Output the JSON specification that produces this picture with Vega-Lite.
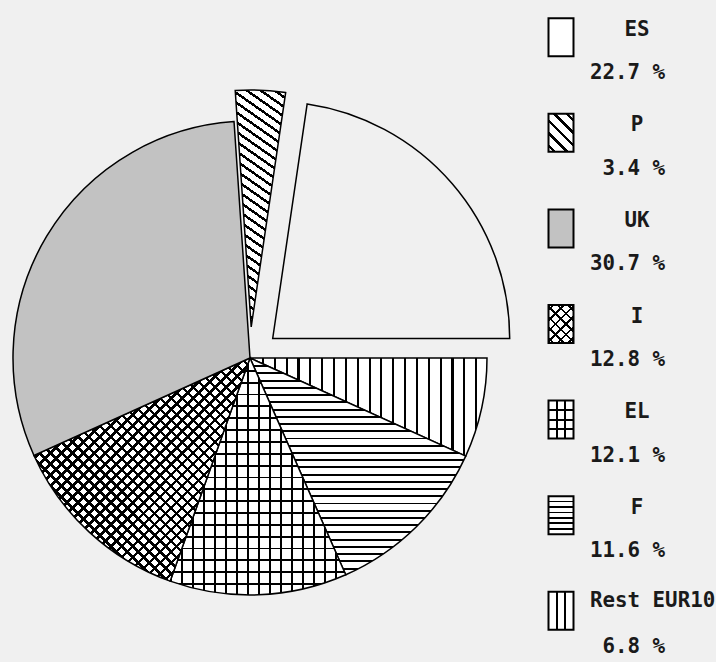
{
"$schema":"https://vega.github.io/schema/vega-lite/v6.json",
"background":"#f0f0f0",
"padding":0,
"spacing":30,
"bounds":"flush",
"config":{"view":{"stroke":null}},
"hconcat":[
{
"width":500,"height":662,
"data":{"values":[
{"country":"Rest EUR10","pct":6.8,"ord":1},
{"country":"F","pct":11.6,"ord":2},
{"country":"EL","pct":12.1,"ord":3},
{"country":"I","pct":12.8,"ord":4},
{"country":"UK","pct":30.7,"ord":5},
{"country":"P","pct":3.4,"ord":6},
{"country":"ES","pct":22.7,"ord":7}]},
"encoding":{
"theta":{"field":"pct","type":"quantitative","stack":true,"scale":{"range":[1.5707963,7.8539816]}},
"order":{"field":"ord","type":"quantitative"},
"detail":{"field":"country"}
},
"layer":[
{"mark":{"type":"arc","radius":237,"yOffset":27,"stroke":"#000","strokeWidth":1.5},
"encoding":{
"fill":{"condition":[
{"test":"datum.country==='Rest EUR10'","value":{"gradient":"linear","x1":0,"y1":0,"x2":1,"y2":0,"stops":[
{"offset":0,"color":"#000"},{"offset":0.009,"color":"#000"},{"offset":0.009,"color":"#fff"},{"offset":0.05,"color":"#fff"},
{"offset":0.05,"color":"#000"},{"offset":0.059,"color":"#000"},{"offset":0.059,"color":"#fff"},{"offset":0.1,"color":"#fff"},
{"offset":0.1,"color":"#000"},{"offset":0.109,"color":"#000"},{"offset":0.109,"color":"#fff"},{"offset":0.15,"color":"#fff"},
{"offset":0.15,"color":"#000"},{"offset":0.159,"color":"#000"},{"offset":0.159,"color":"#fff"},{"offset":0.2,"color":"#fff"},
{"offset":0.2,"color":"#000"},{"offset":0.209,"color":"#000"},{"offset":0.209,"color":"#fff"},{"offset":0.25,"color":"#fff"},
{"offset":0.25,"color":"#000"},{"offset":0.259,"color":"#000"},{"offset":0.259,"color":"#fff"},{"offset":0.3,"color":"#fff"},
{"offset":0.3,"color":"#000"},{"offset":0.309,"color":"#000"},{"offset":0.309,"color":"#fff"},{"offset":0.35,"color":"#fff"},
{"offset":0.35,"color":"#000"},{"offset":0.359,"color":"#000"},{"offset":0.359,"color":"#fff"},{"offset":0.4,"color":"#fff"},
{"offset":0.4,"color":"#000"},{"offset":0.409,"color":"#000"},{"offset":0.409,"color":"#fff"},{"offset":0.45,"color":"#fff"},
{"offset":0.45,"color":"#000"},{"offset":0.459,"color":"#000"},{"offset":0.459,"color":"#fff"},{"offset":0.5,"color":"#fff"},
{"offset":0.5,"color":"#000"},{"offset":0.509,"color":"#000"},{"offset":0.509,"color":"#fff"},{"offset":0.55,"color":"#fff"},
{"offset":0.55,"color":"#000"},{"offset":0.559,"color":"#000"},{"offset":0.559,"color":"#fff"},{"offset":0.6,"color":"#fff"},
{"offset":0.6,"color":"#000"},{"offset":0.609,"color":"#000"},{"offset":0.609,"color":"#fff"},{"offset":0.65,"color":"#fff"},
{"offset":0.65,"color":"#000"},{"offset":0.659,"color":"#000"},{"offset":0.659,"color":"#fff"},{"offset":0.7,"color":"#fff"},
{"offset":0.7,"color":"#000"},{"offset":0.709,"color":"#000"},{"offset":0.709,"color":"#fff"},{"offset":0.75,"color":"#fff"},
{"offset":0.75,"color":"#000"},{"offset":0.759,"color":"#000"},{"offset":0.759,"color":"#fff"},{"offset":0.8,"color":"#fff"},
{"offset":0.8,"color":"#000"},{"offset":0.809,"color":"#000"},{"offset":0.809,"color":"#fff"},{"offset":0.85,"color":"#fff"},
{"offset":0.85,"color":"#000"},{"offset":0.859,"color":"#000"},{"offset":0.859,"color":"#fff"},{"offset":0.9,"color":"#fff"},
{"offset":0.9,"color":"#000"},{"offset":0.909,"color":"#000"},{"offset":0.909,"color":"#fff"},{"offset":0.95,"color":"#fff"},
{"offset":0.95,"color":"#000"},{"offset":0.959,"color":"#000"},{"offset":0.959,"color":"#fff"},{"offset":1,"color":"#fff"}]}},
{"test":"datum.country==='F'","value":{"gradient":"linear","x1":0,"y1":0,"x2":0,"y2":1,"stops":[
{"offset":0,"color":"#000"},{"offset":0.009,"color":"#000"},{"offset":0.009,"color":"#fff"},{"offset":0.0333,"color":"#fff"},
{"offset":0.0333,"color":"#000"},{"offset":0.0423,"color":"#000"},{"offset":0.0423,"color":"#fff"},{"offset":0.0667,"color":"#fff"},
{"offset":0.0667,"color":"#000"},{"offset":0.0757,"color":"#000"},{"offset":0.0757,"color":"#fff"},{"offset":0.1,"color":"#fff"},
{"offset":0.1,"color":"#000"},{"offset":0.109,"color":"#000"},{"offset":0.109,"color":"#fff"},{"offset":0.1333,"color":"#fff"},
{"offset":0.1333,"color":"#000"},{"offset":0.1423,"color":"#000"},{"offset":0.1423,"color":"#fff"},{"offset":0.1667,"color":"#fff"},
{"offset":0.1667,"color":"#000"},{"offset":0.1757,"color":"#000"},{"offset":0.1757,"color":"#fff"},{"offset":0.2,"color":"#fff"},
{"offset":0.2,"color":"#000"},{"offset":0.209,"color":"#000"},{"offset":0.209,"color":"#fff"},{"offset":0.2333,"color":"#fff"},
{"offset":0.2333,"color":"#000"},{"offset":0.2423,"color":"#000"},{"offset":0.2423,"color":"#fff"},{"offset":0.2667,"color":"#fff"},
{"offset":0.2667,"color":"#000"},{"offset":0.2757,"color":"#000"},{"offset":0.2757,"color":"#fff"},{"offset":0.3,"color":"#fff"},
{"offset":0.3,"color":"#000"},{"offset":0.309,"color":"#000"},{"offset":0.309,"color":"#fff"},{"offset":0.3333,"color":"#fff"},
{"offset":0.3333,"color":"#000"},{"offset":0.3423,"color":"#000"},{"offset":0.3423,"color":"#fff"},{"offset":0.3667,"color":"#fff"},
{"offset":0.3667,"color":"#000"},{"offset":0.3757,"color":"#000"},{"offset":0.3757,"color":"#fff"},{"offset":0.4,"color":"#fff"},
{"offset":0.4,"color":"#000"},{"offset":0.409,"color":"#000"},{"offset":0.409,"color":"#fff"},{"offset":0.4333,"color":"#fff"},
{"offset":0.4333,"color":"#000"},{"offset":0.4423,"color":"#000"},{"offset":0.4423,"color":"#fff"},{"offset":0.4667,"color":"#fff"},
{"offset":0.4667,"color":"#000"},{"offset":0.4757,"color":"#000"},{"offset":0.4757,"color":"#fff"},{"offset":0.5,"color":"#fff"},
{"offset":0.5,"color":"#000"},{"offset":0.509,"color":"#000"},{"offset":0.509,"color":"#fff"},{"offset":0.5333,"color":"#fff"},
{"offset":0.5333,"color":"#000"},{"offset":0.5423,"color":"#000"},{"offset":0.5423,"color":"#fff"},{"offset":0.5667,"color":"#fff"},
{"offset":0.5667,"color":"#000"},{"offset":0.5757,"color":"#000"},{"offset":0.5757,"color":"#fff"},{"offset":0.6,"color":"#fff"},
{"offset":0.6,"color":"#000"},{"offset":0.609,"color":"#000"},{"offset":0.609,"color":"#fff"},{"offset":0.6333,"color":"#fff"},
{"offset":0.6333,"color":"#000"},{"offset":0.6423,"color":"#000"},{"offset":0.6423,"color":"#fff"},{"offset":0.6667,"color":"#fff"},
{"offset":0.6667,"color":"#000"},{"offset":0.6757,"color":"#000"},{"offset":0.6757,"color":"#fff"},{"offset":0.7,"color":"#fff"},
{"offset":0.7,"color":"#000"},{"offset":0.709,"color":"#000"},{"offset":0.709,"color":"#fff"},{"offset":0.7333,"color":"#fff"},
{"offset":0.7333,"color":"#000"},{"offset":0.7423,"color":"#000"},{"offset":0.7423,"color":"#fff"},{"offset":0.7667,"color":"#fff"},
{"offset":0.7667,"color":"#000"},{"offset":0.7757,"color":"#000"},{"offset":0.7757,"color":"#fff"},{"offset":0.8,"color":"#fff"},
{"offset":0.8,"color":"#000"},{"offset":0.809,"color":"#000"},{"offset":0.809,"color":"#fff"},{"offset":0.8333,"color":"#fff"},
{"offset":0.8333,"color":"#000"},{"offset":0.8423,"color":"#000"},{"offset":0.8423,"color":"#fff"},{"offset":0.8667,"color":"#fff"},
{"offset":0.8667,"color":"#000"},{"offset":0.8757,"color":"#000"},{"offset":0.8757,"color":"#fff"},{"offset":0.9,"color":"#fff"},
{"offset":0.9,"color":"#000"},{"offset":0.909,"color":"#000"},{"offset":0.909,"color":"#fff"},{"offset":0.9333,"color":"#fff"},
{"offset":0.9333,"color":"#000"},{"offset":0.9423,"color":"#000"},{"offset":0.9423,"color":"#fff"},{"offset":0.9667,"color":"#fff"},
{"offset":0.9667,"color":"#000"},{"offset":0.9757,"color":"#000"},{"offset":0.9757,"color":"#fff"},{"offset":1,"color":"#fff"}]}},
{"test":"datum.country==='EL'","value":{"gradient":"linear","x1":0,"y1":0,"x2":0,"y2":1,"stops":[
{"offset":0,"color":"#000"},{"offset":0.008,"color":"#000"},{"offset":0.008,"color":"#fff"},{"offset":0.05,"color":"#fff"},
{"offset":0.05,"color":"#000"},{"offset":0.058,"color":"#000"},{"offset":0.058,"color":"#fff"},{"offset":0.1,"color":"#fff"},
{"offset":0.1,"color":"#000"},{"offset":0.108,"color":"#000"},{"offset":0.108,"color":"#fff"},{"offset":0.15,"color":"#fff"},
{"offset":0.15,"color":"#000"},{"offset":0.158,"color":"#000"},{"offset":0.158,"color":"#fff"},{"offset":0.2,"color":"#fff"},
{"offset":0.2,"color":"#000"},{"offset":0.208,"color":"#000"},{"offset":0.208,"color":"#fff"},{"offset":0.25,"color":"#fff"},
{"offset":0.25,"color":"#000"},{"offset":0.258,"color":"#000"},{"offset":0.258,"color":"#fff"},{"offset":0.3,"color":"#fff"},
{"offset":0.3,"color":"#000"},{"offset":0.308,"color":"#000"},{"offset":0.308,"color":"#fff"},{"offset":0.35,"color":"#fff"},
{"offset":0.35,"color":"#000"},{"offset":0.358,"color":"#000"},{"offset":0.358,"color":"#fff"},{"offset":0.4,"color":"#fff"},
{"offset":0.4,"color":"#000"},{"offset":0.408,"color":"#000"},{"offset":0.408,"color":"#fff"},{"offset":0.45,"color":"#fff"},
{"offset":0.45,"color":"#000"},{"offset":0.458,"color":"#000"},{"offset":0.458,"color":"#fff"},{"offset":0.5,"color":"#fff"},
{"offset":0.5,"color":"#000"},{"offset":0.508,"color":"#000"},{"offset":0.508,"color":"#fff"},{"offset":0.55,"color":"#fff"},
{"offset":0.55,"color":"#000"},{"offset":0.558,"color":"#000"},{"offset":0.558,"color":"#fff"},{"offset":0.6,"color":"#fff"},
{"offset":0.6,"color":"#000"},{"offset":0.608,"color":"#000"},{"offset":0.608,"color":"#fff"},{"offset":0.65,"color":"#fff"},
{"offset":0.65,"color":"#000"},{"offset":0.658,"color":"#000"},{"offset":0.658,"color":"#fff"},{"offset":0.7,"color":"#fff"},
{"offset":0.7,"color":"#000"},{"offset":0.708,"color":"#000"},{"offset":0.708,"color":"#fff"},{"offset":0.75,"color":"#fff"},
{"offset":0.75,"color":"#000"},{"offset":0.758,"color":"#000"},{"offset":0.758,"color":"#fff"},{"offset":0.8,"color":"#fff"},
{"offset":0.8,"color":"#000"},{"offset":0.808,"color":"#000"},{"offset":0.808,"color":"#fff"},{"offset":0.85,"color":"#fff"},
{"offset":0.85,"color":"#000"},{"offset":0.858,"color":"#000"},{"offset":0.858,"color":"#fff"},{"offset":0.9,"color":"#fff"},
{"offset":0.9,"color":"#000"},{"offset":0.908,"color":"#000"},{"offset":0.908,"color":"#fff"},{"offset":0.95,"color":"#fff"},
{"offset":0.95,"color":"#000"},{"offset":0.958,"color":"#000"},{"offset":0.958,"color":"#fff"},{"offset":1,"color":"#fff"}]}},
{"test":"datum.country==='I'","value":{"gradient":"linear","x1":0,"y1":1,"x2":0.9838,"y2":-0.0157,"stops":[
{"offset":0,"color":"#000"},{"offset":0.008,"color":"#000"},{"offset":0.008,"color":"#fff"},{"offset":0.025,"color":"#fff"},
{"offset":0.025,"color":"#000"},{"offset":0.033,"color":"#000"},{"offset":0.033,"color":"#fff"},{"offset":0.05,"color":"#fff"},
{"offset":0.05,"color":"#000"},{"offset":0.058,"color":"#000"},{"offset":0.058,"color":"#fff"},{"offset":0.075,"color":"#fff"},
{"offset":0.075,"color":"#000"},{"offset":0.083,"color":"#000"},{"offset":0.083,"color":"#fff"},{"offset":0.1,"color":"#fff"},
{"offset":0.1,"color":"#000"},{"offset":0.108,"color":"#000"},{"offset":0.108,"color":"#fff"},{"offset":0.125,"color":"#fff"},
{"offset":0.125,"color":"#000"},{"offset":0.133,"color":"#000"},{"offset":0.133,"color":"#fff"},{"offset":0.15,"color":"#fff"},
{"offset":0.15,"color":"#000"},{"offset":0.158,"color":"#000"},{"offset":0.158,"color":"#fff"},{"offset":0.175,"color":"#fff"},
{"offset":0.175,"color":"#000"},{"offset":0.183,"color":"#000"},{"offset":0.183,"color":"#fff"},{"offset":0.2,"color":"#fff"},
{"offset":0.2,"color":"#000"},{"offset":0.208,"color":"#000"},{"offset":0.208,"color":"#fff"},{"offset":0.225,"color":"#fff"},
{"offset":0.225,"color":"#000"},{"offset":0.233,"color":"#000"},{"offset":0.233,"color":"#fff"},{"offset":0.25,"color":"#fff"},
{"offset":0.25,"color":"#000"},{"offset":0.258,"color":"#000"},{"offset":0.258,"color":"#fff"},{"offset":0.275,"color":"#fff"},
{"offset":0.275,"color":"#000"},{"offset":0.283,"color":"#000"},{"offset":0.283,"color":"#fff"},{"offset":0.3,"color":"#fff"},
{"offset":0.3,"color":"#000"},{"offset":0.308,"color":"#000"},{"offset":0.308,"color":"#fff"},{"offset":0.325,"color":"#fff"},
{"offset":0.325,"color":"#000"},{"offset":0.333,"color":"#000"},{"offset":0.333,"color":"#fff"},{"offset":0.35,"color":"#fff"},
{"offset":0.35,"color":"#000"},{"offset":0.358,"color":"#000"},{"offset":0.358,"color":"#fff"},{"offset":0.375,"color":"#fff"},
{"offset":0.375,"color":"#000"},{"offset":0.383,"color":"#000"},{"offset":0.383,"color":"#fff"},{"offset":0.4,"color":"#fff"},
{"offset":0.4,"color":"#000"},{"offset":0.408,"color":"#000"},{"offset":0.408,"color":"#fff"},{"offset":0.425,"color":"#fff"},
{"offset":0.425,"color":"#000"},{"offset":0.433,"color":"#000"},{"offset":0.433,"color":"#fff"},{"offset":0.45,"color":"#fff"},
{"offset":0.45,"color":"#000"},{"offset":0.458,"color":"#000"},{"offset":0.458,"color":"#fff"},{"offset":0.475,"color":"#fff"},
{"offset":0.475,"color":"#000"},{"offset":0.483,"color":"#000"},{"offset":0.483,"color":"#fff"},{"offset":0.5,"color":"#fff"},
{"offset":0.5,"color":"#000"},{"offset":0.508,"color":"#000"},{"offset":0.508,"color":"#fff"},{"offset":0.525,"color":"#fff"},
{"offset":0.525,"color":"#000"},{"offset":0.533,"color":"#000"},{"offset":0.533,"color":"#fff"},{"offset":0.55,"color":"#fff"},
{"offset":0.55,"color":"#000"},{"offset":0.558,"color":"#000"},{"offset":0.558,"color":"#fff"},{"offset":0.575,"color":"#fff"},
{"offset":0.575,"color":"#000"},{"offset":0.583,"color":"#000"},{"offset":0.583,"color":"#fff"},{"offset":0.6,"color":"#fff"},
{"offset":0.6,"color":"#000"},{"offset":0.608,"color":"#000"},{"offset":0.608,"color":"#fff"},{"offset":0.625,"color":"#fff"},
{"offset":0.625,"color":"#000"},{"offset":0.633,"color":"#000"},{"offset":0.633,"color":"#fff"},{"offset":0.65,"color":"#fff"},
{"offset":0.65,"color":"#000"},{"offset":0.658,"color":"#000"},{"offset":0.658,"color":"#fff"},{"offset":0.675,"color":"#fff"},
{"offset":0.675,"color":"#000"},{"offset":0.683,"color":"#000"},{"offset":0.683,"color":"#fff"},{"offset":0.7,"color":"#fff"},
{"offset":0.7,"color":"#000"},{"offset":0.708,"color":"#000"},{"offset":0.708,"color":"#fff"},{"offset":0.725,"color":"#fff"},
{"offset":0.725,"color":"#000"},{"offset":0.733,"color":"#000"},{"offset":0.733,"color":"#fff"},{"offset":0.75,"color":"#fff"},
{"offset":0.75,"color":"#000"},{"offset":0.758,"color":"#000"},{"offset":0.758,"color":"#fff"},{"offset":0.775,"color":"#fff"},
{"offset":0.775,"color":"#000"},{"offset":0.783,"color":"#000"},{"offset":0.783,"color":"#fff"},{"offset":0.8,"color":"#fff"},
{"offset":0.8,"color":"#000"},{"offset":0.808,"color":"#000"},{"offset":0.808,"color":"#fff"},{"offset":0.825,"color":"#fff"},
{"offset":0.825,"color":"#000"},{"offset":0.833,"color":"#000"},{"offset":0.833,"color":"#fff"},{"offset":0.85,"color":"#fff"},
{"offset":0.85,"color":"#000"},{"offset":0.858,"color":"#000"},{"offset":0.858,"color":"#fff"},{"offset":0.875,"color":"#fff"},
{"offset":0.875,"color":"#000"},{"offset":0.883,"color":"#000"},{"offset":0.883,"color":"#fff"},{"offset":0.9,"color":"#fff"},
{"offset":0.9,"color":"#000"},{"offset":0.908,"color":"#000"},{"offset":0.908,"color":"#fff"},{"offset":0.925,"color":"#fff"},
{"offset":0.925,"color":"#000"},{"offset":0.933,"color":"#000"},{"offset":0.933,"color":"#fff"},{"offset":0.95,"color":"#fff"},
{"offset":0.95,"color":"#000"},{"offset":0.958,"color":"#000"},{"offset":0.958,"color":"#fff"},{"offset":0.975,"color":"#fff"},
{"offset":0.975,"color":"#000"},{"offset":0.983,"color":"#000"},{"offset":0.983,"color":"#fff"},{"offset":1,"color":"#fff"}]}},
{"test":"datum.country==='UK'","value":"#c2c2c2"}
],"value":"#fff"},
"opacity":{"condition":{"test":"datum.country==='ES'||datum.country==='P'","value":0},"value":1}
}},
{"mark":{"type":"arc","radius":237,"yOffset":27,"strokeWidth":0},
"encoding":{
"fill":{"condition":[
{"test":"datum.country==='EL'","value":{"gradient":"linear","x1":0,"y1":0,"x2":1,"y2":0,"stops":[
{"offset":0,"color":"#000"},{"offset":0.01,"color":"#000"},{"offset":0.01,"color":"rgba(0,0,0,0)"},{"offset":0.0625,"color":"rgba(0,0,0,0)"},
{"offset":0.0625,"color":"#000"},{"offset":0.0725,"color":"#000"},{"offset":0.0725,"color":"rgba(0,0,0,0)"},{"offset":0.125,"color":"rgba(0,0,0,0)"},
{"offset":0.125,"color":"#000"},{"offset":0.135,"color":"#000"},{"offset":0.135,"color":"rgba(0,0,0,0)"},{"offset":0.1875,"color":"rgba(0,0,0,0)"},
{"offset":0.1875,"color":"#000"},{"offset":0.1975,"color":"#000"},{"offset":0.1975,"color":"rgba(0,0,0,0)"},{"offset":0.25,"color":"rgba(0,0,0,0)"},
{"offset":0.25,"color":"#000"},{"offset":0.26,"color":"#000"},{"offset":0.26,"color":"rgba(0,0,0,0)"},{"offset":0.3125,"color":"rgba(0,0,0,0)"},
{"offset":0.3125,"color":"#000"},{"offset":0.3225,"color":"#000"},{"offset":0.3225,"color":"rgba(0,0,0,0)"},{"offset":0.375,"color":"rgba(0,0,0,0)"},
{"offset":0.375,"color":"#000"},{"offset":0.385,"color":"#000"},{"offset":0.385,"color":"rgba(0,0,0,0)"},{"offset":0.4375,"color":"rgba(0,0,0,0)"},
{"offset":0.4375,"color":"#000"},{"offset":0.4475,"color":"#000"},{"offset":0.4475,"color":"rgba(0,0,0,0)"},{"offset":0.5,"color":"rgba(0,0,0,0)"},
{"offset":0.5,"color":"#000"},{"offset":0.51,"color":"#000"},{"offset":0.51,"color":"rgba(0,0,0,0)"},{"offset":0.5625,"color":"rgba(0,0,0,0)"},
{"offset":0.5625,"color":"#000"},{"offset":0.5725,"color":"#000"},{"offset":0.5725,"color":"rgba(0,0,0,0)"},{"offset":0.625,"color":"rgba(0,0,0,0)"},
{"offset":0.625,"color":"#000"},{"offset":0.635,"color":"#000"},{"offset":0.635,"color":"rgba(0,0,0,0)"},{"offset":0.6875,"color":"rgba(0,0,0,0)"},
{"offset":0.6875,"color":"#000"},{"offset":0.6975,"color":"#000"},{"offset":0.6975,"color":"rgba(0,0,0,0)"},{"offset":0.75,"color":"rgba(0,0,0,0)"},
{"offset":0.75,"color":"#000"},{"offset":0.76,"color":"#000"},{"offset":0.76,"color":"rgba(0,0,0,0)"},{"offset":0.8125,"color":"rgba(0,0,0,0)"},
{"offset":0.8125,"color":"#000"},{"offset":0.8225,"color":"#000"},{"offset":0.8225,"color":"rgba(0,0,0,0)"},{"offset":0.875,"color":"rgba(0,0,0,0)"},
{"offset":0.875,"color":"#000"},{"offset":0.885,"color":"#000"},{"offset":0.885,"color":"rgba(0,0,0,0)"},{"offset":0.9375,"color":"rgba(0,0,0,0)"},
{"offset":0.9375,"color":"#000"},{"offset":0.9475,"color":"#000"},{"offset":0.9475,"color":"rgba(0,0,0,0)"},{"offset":1,"color":"rgba(0,0,0,0)"}]}},
{"test":"datum.country==='I'","value":{"gradient":"linear","x1":0,"y1":0,"x2":0.9838,"y2":1.0157,"stops":[
{"offset":0,"color":"#000"},{"offset":0.008,"color":"#000"},{"offset":0.008,"color":"rgba(0,0,0,0)"},{"offset":0.025,"color":"rgba(0,0,0,0)"},
{"offset":0.025,"color":"#000"},{"offset":0.033,"color":"#000"},{"offset":0.033,"color":"rgba(0,0,0,0)"},{"offset":0.05,"color":"rgba(0,0,0,0)"},
{"offset":0.05,"color":"#000"},{"offset":0.058,"color":"#000"},{"offset":0.058,"color":"rgba(0,0,0,0)"},{"offset":0.075,"color":"rgba(0,0,0,0)"},
{"offset":0.075,"color":"#000"},{"offset":0.083,"color":"#000"},{"offset":0.083,"color":"rgba(0,0,0,0)"},{"offset":0.1,"color":"rgba(0,0,0,0)"},
{"offset":0.1,"color":"#000"},{"offset":0.108,"color":"#000"},{"offset":0.108,"color":"rgba(0,0,0,0)"},{"offset":0.125,"color":"rgba(0,0,0,0)"},
{"offset":0.125,"color":"#000"},{"offset":0.133,"color":"#000"},{"offset":0.133,"color":"rgba(0,0,0,0)"},{"offset":0.15,"color":"rgba(0,0,0,0)"},
{"offset":0.15,"color":"#000"},{"offset":0.158,"color":"#000"},{"offset":0.158,"color":"rgba(0,0,0,0)"},{"offset":0.175,"color":"rgba(0,0,0,0)"},
{"offset":0.175,"color":"#000"},{"offset":0.183,"color":"#000"},{"offset":0.183,"color":"rgba(0,0,0,0)"},{"offset":0.2,"color":"rgba(0,0,0,0)"},
{"offset":0.2,"color":"#000"},{"offset":0.208,"color":"#000"},{"offset":0.208,"color":"rgba(0,0,0,0)"},{"offset":0.225,"color":"rgba(0,0,0,0)"},
{"offset":0.225,"color":"#000"},{"offset":0.233,"color":"#000"},{"offset":0.233,"color":"rgba(0,0,0,0)"},{"offset":0.25,"color":"rgba(0,0,0,0)"},
{"offset":0.25,"color":"#000"},{"offset":0.258,"color":"#000"},{"offset":0.258,"color":"rgba(0,0,0,0)"},{"offset":0.275,"color":"rgba(0,0,0,0)"},
{"offset":0.275,"color":"#000"},{"offset":0.283,"color":"#000"},{"offset":0.283,"color":"rgba(0,0,0,0)"},{"offset":0.3,"color":"rgba(0,0,0,0)"},
{"offset":0.3,"color":"#000"},{"offset":0.308,"color":"#000"},{"offset":0.308,"color":"rgba(0,0,0,0)"},{"offset":0.325,"color":"rgba(0,0,0,0)"},
{"offset":0.325,"color":"#000"},{"offset":0.333,"color":"#000"},{"offset":0.333,"color":"rgba(0,0,0,0)"},{"offset":0.35,"color":"rgba(0,0,0,0)"},
{"offset":0.35,"color":"#000"},{"offset":0.358,"color":"#000"},{"offset":0.358,"color":"rgba(0,0,0,0)"},{"offset":0.375,"color":"rgba(0,0,0,0)"},
{"offset":0.375,"color":"#000"},{"offset":0.383,"color":"#000"},{"offset":0.383,"color":"rgba(0,0,0,0)"},{"offset":0.4,"color":"rgba(0,0,0,0)"},
{"offset":0.4,"color":"#000"},{"offset":0.408,"color":"#000"},{"offset":0.408,"color":"rgba(0,0,0,0)"},{"offset":0.425,"color":"rgba(0,0,0,0)"},
{"offset":0.425,"color":"#000"},{"offset":0.433,"color":"#000"},{"offset":0.433,"color":"rgba(0,0,0,0)"},{"offset":0.45,"color":"rgba(0,0,0,0)"},
{"offset":0.45,"color":"#000"},{"offset":0.458,"color":"#000"},{"offset":0.458,"color":"rgba(0,0,0,0)"},{"offset":0.475,"color":"rgba(0,0,0,0)"},
{"offset":0.475,"color":"#000"},{"offset":0.483,"color":"#000"},{"offset":0.483,"color":"rgba(0,0,0,0)"},{"offset":0.5,"color":"rgba(0,0,0,0)"},
{"offset":0.5,"color":"#000"},{"offset":0.508,"color":"#000"},{"offset":0.508,"color":"rgba(0,0,0,0)"},{"offset":0.525,"color":"rgba(0,0,0,0)"},
{"offset":0.525,"color":"#000"},{"offset":0.533,"color":"#000"},{"offset":0.533,"color":"rgba(0,0,0,0)"},{"offset":0.55,"color":"rgba(0,0,0,0)"},
{"offset":0.55,"color":"#000"},{"offset":0.558,"color":"#000"},{"offset":0.558,"color":"rgba(0,0,0,0)"},{"offset":0.575,"color":"rgba(0,0,0,0)"},
{"offset":0.575,"color":"#000"},{"offset":0.583,"color":"#000"},{"offset":0.583,"color":"rgba(0,0,0,0)"},{"offset":0.6,"color":"rgba(0,0,0,0)"},
{"offset":0.6,"color":"#000"},{"offset":0.608,"color":"#000"},{"offset":0.608,"color":"rgba(0,0,0,0)"},{"offset":0.625,"color":"rgba(0,0,0,0)"},
{"offset":0.625,"color":"#000"},{"offset":0.633,"color":"#000"},{"offset":0.633,"color":"rgba(0,0,0,0)"},{"offset":0.65,"color":"rgba(0,0,0,0)"},
{"offset":0.65,"color":"#000"},{"offset":0.658,"color":"#000"},{"offset":0.658,"color":"rgba(0,0,0,0)"},{"offset":0.675,"color":"rgba(0,0,0,0)"},
{"offset":0.675,"color":"#000"},{"offset":0.683,"color":"#000"},{"offset":0.683,"color":"rgba(0,0,0,0)"},{"offset":0.7,"color":"rgba(0,0,0,0)"},
{"offset":0.7,"color":"#000"},{"offset":0.708,"color":"#000"},{"offset":0.708,"color":"rgba(0,0,0,0)"},{"offset":0.725,"color":"rgba(0,0,0,0)"},
{"offset":0.725,"color":"#000"},{"offset":0.733,"color":"#000"},{"offset":0.733,"color":"rgba(0,0,0,0)"},{"offset":0.75,"color":"rgba(0,0,0,0)"},
{"offset":0.75,"color":"#000"},{"offset":0.758,"color":"#000"},{"offset":0.758,"color":"rgba(0,0,0,0)"},{"offset":0.775,"color":"rgba(0,0,0,0)"},
{"offset":0.775,"color":"#000"},{"offset":0.783,"color":"#000"},{"offset":0.783,"color":"rgba(0,0,0,0)"},{"offset":0.8,"color":"rgba(0,0,0,0)"},
{"offset":0.8,"color":"#000"},{"offset":0.808,"color":"#000"},{"offset":0.808,"color":"rgba(0,0,0,0)"},{"offset":0.825,"color":"rgba(0,0,0,0)"},
{"offset":0.825,"color":"#000"},{"offset":0.833,"color":"#000"},{"offset":0.833,"color":"rgba(0,0,0,0)"},{"offset":0.85,"color":"rgba(0,0,0,0)"},
{"offset":0.85,"color":"#000"},{"offset":0.858,"color":"#000"},{"offset":0.858,"color":"rgba(0,0,0,0)"},{"offset":0.875,"color":"rgba(0,0,0,0)"},
{"offset":0.875,"color":"#000"},{"offset":0.883,"color":"#000"},{"offset":0.883,"color":"rgba(0,0,0,0)"},{"offset":0.9,"color":"rgba(0,0,0,0)"},
{"offset":0.9,"color":"#000"},{"offset":0.908,"color":"#000"},{"offset":0.908,"color":"rgba(0,0,0,0)"},{"offset":0.925,"color":"rgba(0,0,0,0)"},
{"offset":0.925,"color":"#000"},{"offset":0.933,"color":"#000"},{"offset":0.933,"color":"rgba(0,0,0,0)"},{"offset":0.95,"color":"rgba(0,0,0,0)"},
{"offset":0.95,"color":"#000"},{"offset":0.958,"color":"#000"},{"offset":0.958,"color":"rgba(0,0,0,0)"},{"offset":0.975,"color":"rgba(0,0,0,0)"},
{"offset":0.975,"color":"#000"},{"offset":0.983,"color":"#000"},{"offset":0.983,"color":"rgba(0,0,0,0)"},{"offset":1,"color":"rgba(0,0,0,0)"}]}}
],"value":"transparent"},
"opacity":{"condition":{"test":"datum.country==='EL'||datum.country==='I'","value":1},"value":0}
}},
{"mark":{"type":"arc","radius":237,"xOffset":22.7,"yOffset":7.4,"stroke":"#000","strokeWidth":1.5,"fill":"transparent"},
"encoding":{"opacity":{"condition":{"test":"datum.country==='ES'","value":1},"value":0}}},
{"mark":{"type":"arc","radius":237,"xOffset":1.2,"yOffset":-4,"stroke":"#000","strokeWidth":1.5},
"encoding":{
"fill":{"value":{"gradient":"linear","x1":0,"y1":1,"x2":0.1675,"y2":-0.124,"stops":[
{"offset":0,"color":"#000"},{"offset":0.011,"color":"#000"},{"offset":0.011,"color":"#fff"},{"offset":0.0357,"color":"#fff"},
{"offset":0.0357,"color":"#000"},{"offset":0.0467,"color":"#000"},{"offset":0.0467,"color":"#fff"},{"offset":0.0714,"color":"#fff"},
{"offset":0.0714,"color":"#000"},{"offset":0.0824,"color":"#000"},{"offset":0.0824,"color":"#fff"},{"offset":0.1071,"color":"#fff"},
{"offset":0.1071,"color":"#000"},{"offset":0.1181,"color":"#000"},{"offset":0.1181,"color":"#fff"},{"offset":0.1429,"color":"#fff"},
{"offset":0.1429,"color":"#000"},{"offset":0.1539,"color":"#000"},{"offset":0.1539,"color":"#fff"},{"offset":0.1786,"color":"#fff"},
{"offset":0.1786,"color":"#000"},{"offset":0.1896,"color":"#000"},{"offset":0.1896,"color":"#fff"},{"offset":0.2143,"color":"#fff"},
{"offset":0.2143,"color":"#000"},{"offset":0.2253,"color":"#000"},{"offset":0.2253,"color":"#fff"},{"offset":0.25,"color":"#fff"},
{"offset":0.25,"color":"#000"},{"offset":0.261,"color":"#000"},{"offset":0.261,"color":"#fff"},{"offset":0.2857,"color":"#fff"},
{"offset":0.2857,"color":"#000"},{"offset":0.2967,"color":"#000"},{"offset":0.2967,"color":"#fff"},{"offset":0.3214,"color":"#fff"},
{"offset":0.3214,"color":"#000"},{"offset":0.3324,"color":"#000"},{"offset":0.3324,"color":"#fff"},{"offset":0.3571,"color":"#fff"},
{"offset":0.3571,"color":"#000"},{"offset":0.3681,"color":"#000"},{"offset":0.3681,"color":"#fff"},{"offset":0.3929,"color":"#fff"},
{"offset":0.3929,"color":"#000"},{"offset":0.4039,"color":"#000"},{"offset":0.4039,"color":"#fff"},{"offset":0.4286,"color":"#fff"},
{"offset":0.4286,"color":"#000"},{"offset":0.4396,"color":"#000"},{"offset":0.4396,"color":"#fff"},{"offset":0.4643,"color":"#fff"},
{"offset":0.4643,"color":"#000"},{"offset":0.4753,"color":"#000"},{"offset":0.4753,"color":"#fff"},{"offset":0.5,"color":"#fff"},
{"offset":0.5,"color":"#000"},{"offset":0.511,"color":"#000"},{"offset":0.511,"color":"#fff"},{"offset":0.5357,"color":"#fff"},
{"offset":0.5357,"color":"#000"},{"offset":0.5467,"color":"#000"},{"offset":0.5467,"color":"#fff"},{"offset":0.5714,"color":"#fff"},
{"offset":0.5714,"color":"#000"},{"offset":0.5824,"color":"#000"},{"offset":0.5824,"color":"#fff"},{"offset":0.6071,"color":"#fff"},
{"offset":0.6071,"color":"#000"},{"offset":0.6181,"color":"#000"},{"offset":0.6181,"color":"#fff"},{"offset":0.6429,"color":"#fff"},
{"offset":0.6429,"color":"#000"},{"offset":0.6539,"color":"#000"},{"offset":0.6539,"color":"#fff"},{"offset":0.6786,"color":"#fff"},
{"offset":0.6786,"color":"#000"},{"offset":0.6896,"color":"#000"},{"offset":0.6896,"color":"#fff"},{"offset":0.7143,"color":"#fff"},
{"offset":0.7143,"color":"#000"},{"offset":0.7253,"color":"#000"},{"offset":0.7253,"color":"#fff"},{"offset":0.75,"color":"#fff"},
{"offset":0.75,"color":"#000"},{"offset":0.761,"color":"#000"},{"offset":0.761,"color":"#fff"},{"offset":0.7857,"color":"#fff"},
{"offset":0.7857,"color":"#000"},{"offset":0.7967,"color":"#000"},{"offset":0.7967,"color":"#fff"},{"offset":0.8214,"color":"#fff"},
{"offset":0.8214,"color":"#000"},{"offset":0.8324,"color":"#000"},{"offset":0.8324,"color":"#fff"},{"offset":0.8571,"color":"#fff"},
{"offset":0.8571,"color":"#000"},{"offset":0.8681,"color":"#000"},{"offset":0.8681,"color":"#fff"},{"offset":0.8929,"color":"#fff"},
{"offset":0.8929,"color":"#000"},{"offset":0.9039,"color":"#000"},{"offset":0.9039,"color":"#fff"},{"offset":0.9286,"color":"#fff"},
{"offset":0.9286,"color":"#000"},{"offset":0.9396,"color":"#000"},{"offset":0.9396,"color":"#fff"},{"offset":0.9643,"color":"#fff"},
{"offset":0.9643,"color":"#000"},{"offset":0.9753,"color":"#000"},{"offset":0.9753,"color":"#fff"},{"offset":1,"color":"#fff"}]}},
"opacity":{"condition":{"test":"datum.country==='P'","value":1},"value":0}
}}
]
},
{
"width":186,"height":648,
"data":{"values":[
{"country":"Rest EUR10","pct":6.8,"ord":1},
{"country":"F","pct":11.6,"ord":2},
{"country":"EL","pct":12.1,"ord":3},
{"country":"I","pct":12.8,"ord":4},
{"country":"UK","pct":30.7,"ord":5},
{"country":"P","pct":3.4,"ord":6},
{"country":"ES","pct":22.7,"ord":7}]},
"encoding":{"y":{"field":"country","type":"nominal","sort":["ES","P","UK","I","EL","F","Rest EUR10"],"scale":{"type":"point","padding":0.39},"axis":null}},
"layer":[
{"mark":{"type":"point","shape":"M-0.658,-1H0.658V1H-0.658Z","size":1444,"filled":true,"opacity":1,"stroke":"#000","strokeWidth":2},
"encoding":{"x":{"value":31},
"fill":{"condition":[
{"test":"datum.country==='P'","value":{"gradient":"linear","x1":0,"y1":1,"x2":0.761,"y2":-0.157,"stops":[
{"offset":0,"color":"#fff"},{"offset":0.07,"color":"#fff"},{"offset":0.07,"color":"#000"},{"offset":0.126,"color":"#000"},{"offset":0.126,"color":"#fff"},
{"offset":0.27,"color":"#fff"},{"offset":0.27,"color":"#000"},{"offset":0.326,"color":"#000"},{"offset":0.326,"color":"#fff"},
{"offset":0.47,"color":"#fff"},{"offset":0.47,"color":"#000"},{"offset":0.526,"color":"#000"},{"offset":0.526,"color":"#fff"},
{"offset":0.67,"color":"#fff"},{"offset":0.67,"color":"#000"},{"offset":0.726,"color":"#000"},{"offset":0.726,"color":"#fff"},
{"offset":0.87,"color":"#fff"},{"offset":0.87,"color":"#000"},{"offset":0.926,"color":"#000"},{"offset":0.926,"color":"#fff"},{"offset":1,"color":"#fff"}]}},
{"test":"datum.country==='UK'","value":"#c2c2c2"},
{"test":"datum.country==='I'","value":{"gradient":"linear","x1":0,"y1":1,"x2":0.761,"y2":-0.157,"stops":[
{"offset":0,"color":"#fff"},{"offset":0.06,"color":"#fff"},{"offset":0.06,"color":"#000"},{"offset":0.1,"color":"#000"},{"offset":0.1,"color":"#fff"},
{"offset":0.2267,"color":"#fff"},{"offset":0.2267,"color":"#000"},{"offset":0.2667,"color":"#000"},{"offset":0.2667,"color":"#fff"},
{"offset":0.3933,"color":"#fff"},{"offset":0.3933,"color":"#000"},{"offset":0.4333,"color":"#000"},{"offset":0.4333,"color":"#fff"},
{"offset":0.56,"color":"#fff"},{"offset":0.56,"color":"#000"},{"offset":0.6,"color":"#000"},{"offset":0.6,"color":"#fff"},
{"offset":0.7267,"color":"#fff"},{"offset":0.7267,"color":"#000"},{"offset":0.7667,"color":"#000"},{"offset":0.7667,"color":"#fff"},
{"offset":0.8933,"color":"#fff"},{"offset":0.8933,"color":"#000"},{"offset":0.9333,"color":"#000"},{"offset":0.9333,"color":"#fff"},{"offset":1,"color":"#fff"}]}},
{"test":"datum.country==='EL'","value":{"gradient":"linear","x1":0,"y1":0,"x2":0,"y2":1,"stops":[
{"offset":0,"color":"#fff"},{"offset":0.2235,"color":"#fff"},{"offset":0.2235,"color":"#000"},{"offset":0.2765,"color":"#000"},{"offset":0.2765,"color":"#fff"},
{"offset":0.4735,"color":"#fff"},{"offset":0.4735,"color":"#000"},{"offset":0.5265,"color":"#000"},{"offset":0.5265,"color":"#fff"},
{"offset":0.7235,"color":"#fff"},{"offset":0.7235,"color":"#000"},{"offset":0.7765,"color":"#000"},{"offset":0.7765,"color":"#fff"},{"offset":1,"color":"#fff"}]}},
{"test":"datum.country==='F'","value":{"gradient":"linear","x1":0,"y1":0,"x2":0,"y2":1,"stops":[
{"offset":0,"color":"#fff"},{"offset":0.1194,"color":"#fff"},{"offset":0.1194,"color":"#000"},{"offset":0.1664,"color":"#000"},{"offset":0.1664,"color":"#fff"},
{"offset":0.2622,"color":"#fff"},{"offset":0.2622,"color":"#000"},{"offset":0.3092,"color":"#000"},{"offset":0.3092,"color":"#fff"},
{"offset":0.4051,"color":"#fff"},{"offset":0.4051,"color":"#000"},{"offset":0.4521,"color":"#000"},{"offset":0.4521,"color":"#fff"},
{"offset":0.5479,"color":"#fff"},{"offset":0.5479,"color":"#000"},{"offset":0.5949,"color":"#000"},{"offset":0.5949,"color":"#fff"},
{"offset":0.6908,"color":"#fff"},{"offset":0.6908,"color":"#000"},{"offset":0.7378,"color":"#000"},{"offset":0.7378,"color":"#fff"},
{"offset":0.8336,"color":"#fff"},{"offset":0.8336,"color":"#000"},{"offset":0.8806,"color":"#000"},{"offset":0.8806,"color":"#fff"},{"offset":1,"color":"#fff"}]}},
{"test":"datum.country==='Rest EUR10'","value":{"gradient":"linear","x1":0,"y1":0,"x2":1,"y2":0,"stops":[
{"offset":0,"color":"#fff"},{"offset":0.2933,"color":"#fff"},{"offset":0.2933,"color":"#000"},{"offset":0.3733,"color":"#000"},{"offset":0.3733,"color":"#fff"},
{"offset":0.6267,"color":"#fff"},{"offset":0.6267,"color":"#000"},{"offset":0.7067,"color":"#000"},{"offset":0.7067,"color":"#fff"},{"offset":1,"color":"#fff"}]}}
],"value":"#fff"}
}},
{"mark":{"type":"point","shape":"M-0.658,-1H0.658V1H-0.658Z","size":1444,"filled":true,"opacity":1,"strokeWidth":0},
"encoding":{"x":{"value":31},
"fill":{"condition":[
{"test":"datum.country==='I'","value":{"gradient":"linear","x1":0,"y1":0,"x2":0.761,"y2":1.157,"stops":[
{"offset":0,"color":"rgba(0,0,0,0)"},{"offset":0.06,"color":"rgba(0,0,0,0)"},{"offset":0.06,"color":"#000"},{"offset":0.1,"color":"#000"},{"offset":0.1,"color":"rgba(0,0,0,0)"},
{"offset":0.2267,"color":"rgba(0,0,0,0)"},{"offset":0.2267,"color":"#000"},{"offset":0.2667,"color":"#000"},{"offset":0.2667,"color":"rgba(0,0,0,0)"},
{"offset":0.3933,"color":"rgba(0,0,0,0)"},{"offset":0.3933,"color":"#000"},{"offset":0.4333,"color":"#000"},{"offset":0.4333,"color":"rgba(0,0,0,0)"},
{"offset":0.56,"color":"rgba(0,0,0,0)"},{"offset":0.56,"color":"#000"},{"offset":0.6,"color":"#000"},{"offset":0.6,"color":"rgba(0,0,0,0)"},
{"offset":0.7267,"color":"rgba(0,0,0,0)"},{"offset":0.7267,"color":"#000"},{"offset":0.7667,"color":"#000"},{"offset":0.7667,"color":"rgba(0,0,0,0)"},
{"offset":0.8933,"color":"rgba(0,0,0,0)"},{"offset":0.8933,"color":"#000"},{"offset":0.9333,"color":"#000"},{"offset":0.9333,"color":"rgba(0,0,0,0)"},{"offset":1,"color":"rgba(0,0,0,0)"}]}},
{"test":"datum.country==='EL'","value":{"gradient":"linear","x1":0,"y1":0,"x2":1,"y2":0,"stops":[
{"offset":0,"color":"rgba(0,0,0,0)"},{"offset":0.2933,"color":"rgba(0,0,0,0)"},{"offset":0.2933,"color":"#000"},{"offset":0.3733,"color":"#000"},{"offset":0.3733,"color":"rgba(0,0,0,0)"},
{"offset":0.6267,"color":"rgba(0,0,0,0)"},{"offset":0.6267,"color":"#000"},{"offset":0.7067,"color":"#000"},{"offset":0.7067,"color":"rgba(0,0,0,0)"},{"offset":1,"color":"rgba(0,0,0,0)"}]}}
],"value":"transparent"}
}},
{"transform":[{"filter":"datum.country!=='Rest EUR10'"}],
"mark":{"type":"text","align":"center","baseline":"middle","dy":-7.5,"font":"DejaVu Sans Mono","fontSize":20.8,"fontWeight":"bold","color":"#1a1a1a"},
"encoding":{"x":{"value":107},"text":{"field":"country","type":"nominal"}}},
{"transform":[{"filter":"datum.country==='Rest EUR10'"}],
"mark":{"type":"text","align":"left","baseline":"middle","dy":-10,"font":"DejaVu Sans Mono","fontSize":20.8,"fontWeight":"bold","color":"#1a1a1a"},
"encoding":{"x":{"value":60},"text":{"field":"country","type":"nominal"}}},
{"mark":{"type":"text","align":"right","baseline":"middle","dy":36,"font":"DejaVu Sans Mono","fontSize":20.8,"fontWeight":"bold","color":"#1a1a1a"},
"encoding":{"x":{"value":110},"text":{"field":"pct","type":"quantitative","format":".1f"}}},
{"mark":{"type":"text","align":"right","baseline":"middle","dy":36,"font":"DejaVu Sans Mono","fontSize":20.8,"fontWeight":"bold","color":"#1a1a1a"},
"encoding":{"x":{"value":135},"text":{"value":"%"}}}
]
}
]
}
